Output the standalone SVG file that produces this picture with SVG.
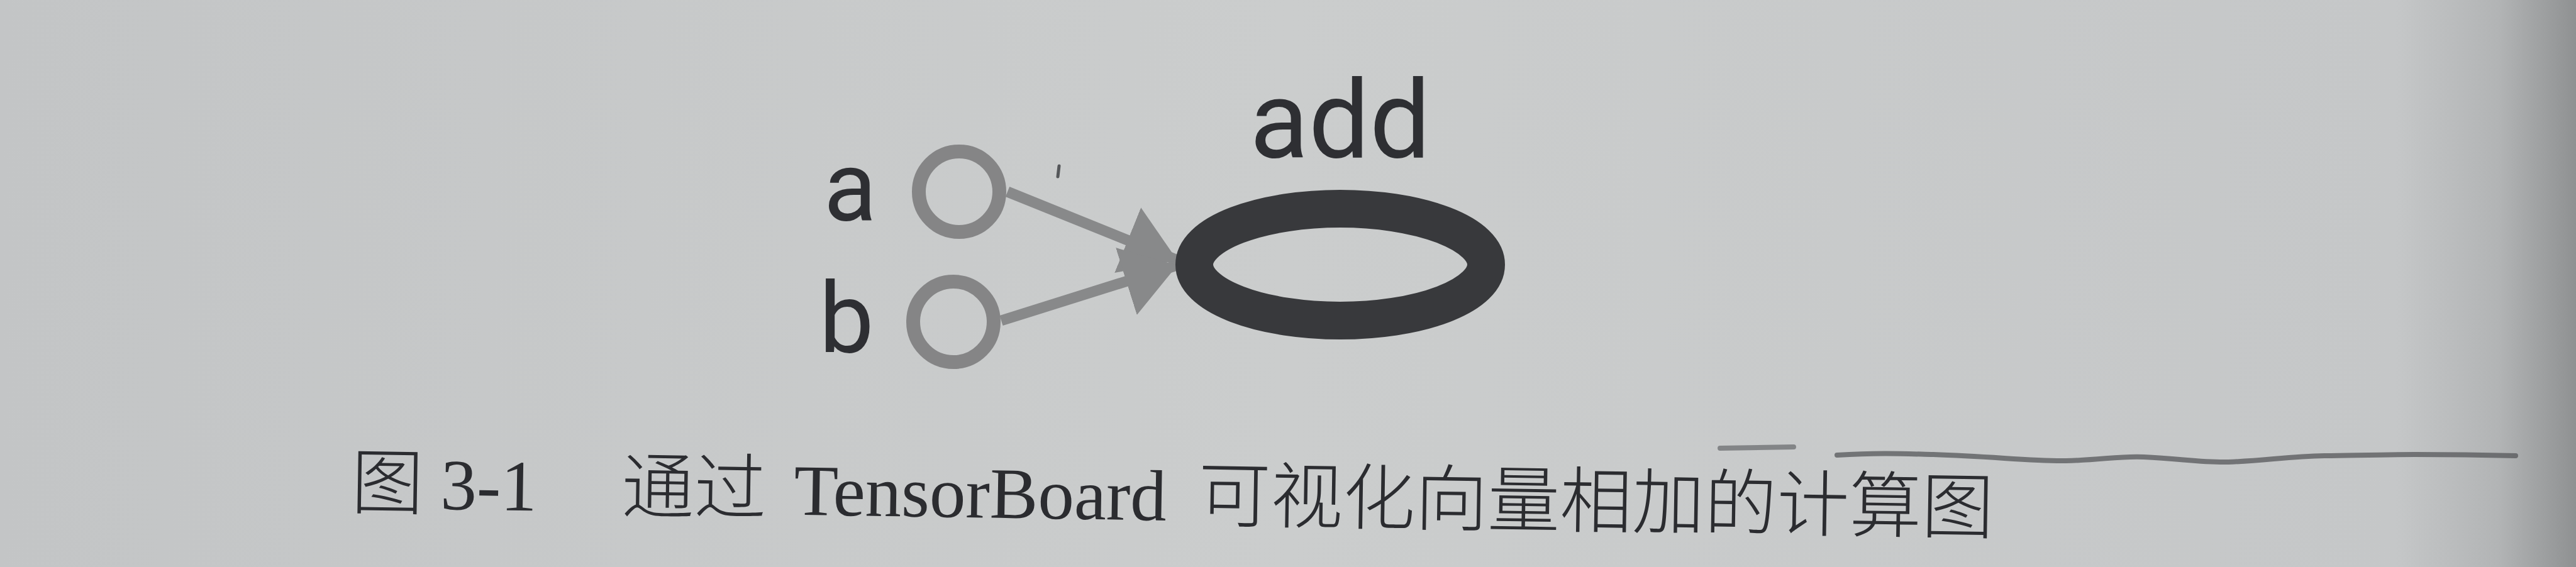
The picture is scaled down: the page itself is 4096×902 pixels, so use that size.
<svg xmlns="http://www.w3.org/2000/svg" width="4096" height="902" viewBox="0 0 4096 902">
<style>
.lbl{font-family:Roboto,"Liberation Sans",sans-serif;fill:#2e2f33;text-anchor:middle}
.in{fill:none;stroke:#858586;stroke-width:22}
.op{fill:none;stroke:#38393c;stroke-width:60}
.edge{fill:none;stroke:#88898a;stroke-width:17}
.cap{font-family:"Liberation Serif","Noto Sans CJK SC",serif;font-size:115px;fill:#2b2c30}
.cjk{font-family:"Noto Sans CJK SC","Liberation Serif",sans-serif;font-weight:300}
.mark{fill:none;stroke:#55575a;stroke-linecap:round}
</style>
<defs>
<linearGradient id="bg" x1="0" y1="0" x2="1" y2="0">
<stop offset="0" stop-color="#c3c5c6"/>
<stop offset="0.5" stop-color="#cbcdcd"/>
<stop offset="0.93" stop-color="#c5c7c8"/>
<stop offset="0.97" stop-color="#b2b4b5"/>
<stop offset="1" stop-color="#8f9192"/>
</linearGradient>
<marker id="arr" viewBox="0 -56 85 112" refX="85" refY="0" markerWidth="85" markerHeight="112" markerUnits="userSpaceOnUse" orient="auto">
<path d="M0,-56 L85,0 L0,56 Z" fill="#88898a"/>
</marker>
</defs>
<rect x="0" y="0" width="4096" height="902" fill="url(#bg)"/>
<g id="connectors">
<path class="edge" d="M1602,305 L1872,414" marker-end="url(#arr)"/>
<path class="edge" d="M1592,510 L1872,422" marker-end="url(#arr)"/>
</g>
<g id="node-a">
<circle class="in" cx="1525" cy="305" r="64"/>
<text class="lbl" x="1352" y="350" font-size="155">a</text>
</g>
<g id="node-b">
<circle class="in" cx="1516" cy="512" r="64"/>
<text class="lbl" x="1346" y="560" font-size="155">b</text>
</g>
<g id="node-add">
<ellipse class="op" cx="2131" cy="421" rx="232" ry="89"/>
<text class="lbl" x="2131" y="250" font-size="172">add</text>
</g>
<g id="marks">
<path class="mark" stroke-width="5" d="M1684,264 L1682,281"/>
<path class="mark" stroke-width="8" opacity="0.6" d="M2735,713 L2852,711"/>
<path class="mark" stroke-width="8" opacity="0.75" d="M2921,724 C2990,720 3030,722 3074,723 C3170,726 3230,734 3285,733 C3340,732 3370,725 3409,727 C3470,730 3500,736 3543,735 C3600,733 3640,726 3696,725 C3760,724 3800,723 3840,723 C3920,723 3960,724 4000,725"/>
</g>
<g id="caption" transform="rotate(0.88 564 808)">
<text class="cap" y="808"><tspan class="cjk" x="558">图</tspan><tspan x="700">3-1</tspan><tspan class="cjk" x="988">通过</tspan><tspan x="1262">TensorBoard</tspan><tspan class="cjk" x="1905">可视化向量相加的计算图</tspan></text>
</g>
</svg>
